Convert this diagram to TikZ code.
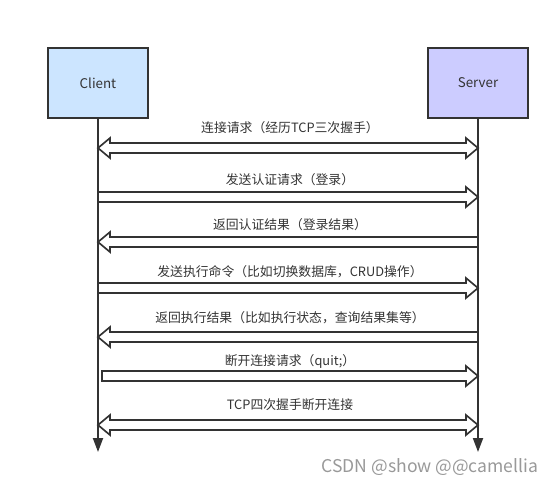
\documentclass[tikz,border=0pt]{standalone}
\usepackage{fontspec}
\setmainfont{Noto Sans CJK SC}
\usepackage{xcolor}
\usepackage{tikz}
\usetikzlibrary{arrows.meta, calc, positioning}

\definecolor{linegray}{HTML}{333333}
\definecolor{clientblue}{HTML}{CCE5FF}
\definecolor{serverblue}{HTML}{CCCCFF}

\begin{document}
\begin{tikzpicture}[
    x=0.02cm, y=-0.02cm,
    actor/.style={rectangle, draw=linegray, line width=1.1pt, minimum width=2cm, minimum height=1.4cm, text centered, font=\fontsize{7.6}{9}\selectfont, text=linegray},
    life/.style={draw=linegray, line width=1.1pt, -{Triangle[length=0.28cm, width=0.2cm]}},
    msg/.style={draw=linegray, line width=0.95pt, fill=white, line join=miter},
    lbl/.style={font=\fontsize{7.3}{9}\selectfont, text=linegray, inner sep=1pt},
    fatright/.style={msg, to path={let \p1=(\tikztostart), \p2=(\tikztotarget) in
        (\x1,{\y1+0.1cm}) -- ({\x2-0.24cm},{\y1+0.1cm}) -- ({\x2-0.24cm},{\y1+0.2cm}) -- (\x2,\y1)
        -- ({\x2-0.24cm},{\y1-0.2cm}) -- ({\x2-0.24cm},{\y1-0.1cm}) -- (\x1,{\y1-0.1cm}) -- cycle}},
    fatleft/.style={msg, to path={let \p1=(\tikztostart), \p2=(\tikztotarget) in
        (\x1,{\y1+0.1cm}) -- ({\x2+0.24cm},{\y1+0.1cm}) -- ({\x2+0.24cm},{\y1+0.2cm}) -- (\x2,\y1)
        -- ({\x2+0.24cm},{\y1-0.2cm}) -- ({\x2+0.24cm},{\y1-0.1cm}) -- (\x1,{\y1-0.1cm}) -- cycle}},
    fatboth/.style={msg, to path={let \p1=(\tikztostart), \p2=(\tikztotarget) in
        (\x1,\y1) -- ({\x1+0.24cm},{\y1+0.2cm}) -- ({\x1+0.24cm},{\y1+0.1cm}) -- ({\x2-0.24cm},{\y1+0.1cm})
        -- ({\x2-0.24cm},{\y1+0.2cm}) -- (\x2,\y1) -- ({\x2-0.24cm},{\y1-0.2cm}) -- ({\x2-0.24cm},{\y1-0.1cm})
        -- ({\x1+0.24cm},{\y1-0.1cm}) -- ({\x1+0.24cm},{\y1-0.2cm}) -- cycle}}
]
    \useasboundingbox (0,0) rectangle (560,485);

    \node[actor, fill=clientblue] (client) at (98,83) {Client};
    \node[actor, fill=serverblue] (server) at (478,83) {Server};

    \coordinate (cend) at (98,452);
    \coordinate (send) at (478,452);
    \draw[life] (client) -- (cend);
    \draw[life] (server) -- (send);

    % anchor points of the messages on both lifelines
    \foreach \i/\y in {1/148, 2/197, 3/242, 4/288, 5/337, 6/376, 7/425} {
        \coordinate (c\i) at (client |- 0,\y);
        \coordinate (s\i) at (server |- 0,\y);
    }

    \draw[fatboth] (c1) to (s1);
    \draw[fatright] (c2) to (s2);
    \draw[fatleft] (s3) to (c3);
    \draw[fatright] (c4) to (s4);
    \draw[fatleft] (s5) to (c5);
    \draw[fatright] ([xshift=0.08cm]c6) to (s6);
    \draw[fatboth] (c7) to (s7);

    \node[lbl] (l1) at (290,128) {连接请求（经历TCP三次握手）};
    \node[lbl] (l2) at (290,180) {发送认证请求（登录）};
    \node[lbl] (l3) at (290,225) {返回认证结果（登录结果）};
    \node[lbl] (l4) at (290,272) {发送执行命令（比如切换数据库，CRUD操作）};
    \node[lbl] (l5) at (290,318) {返回执行结果（比如执行状态，查询结果集等）};
    \node[lbl] (l6) at (290,361) {断开连接请求（quit;）};
    \node[lbl] (l7) at (290,405) {TCP四次握手断开连接};

    \node[font=\fontsize{10}{12}\selectfont, text=gray!80] (mark) at (430,467) {CSDN @show @@camellia};
\end{tikzpicture}
\end{document}
